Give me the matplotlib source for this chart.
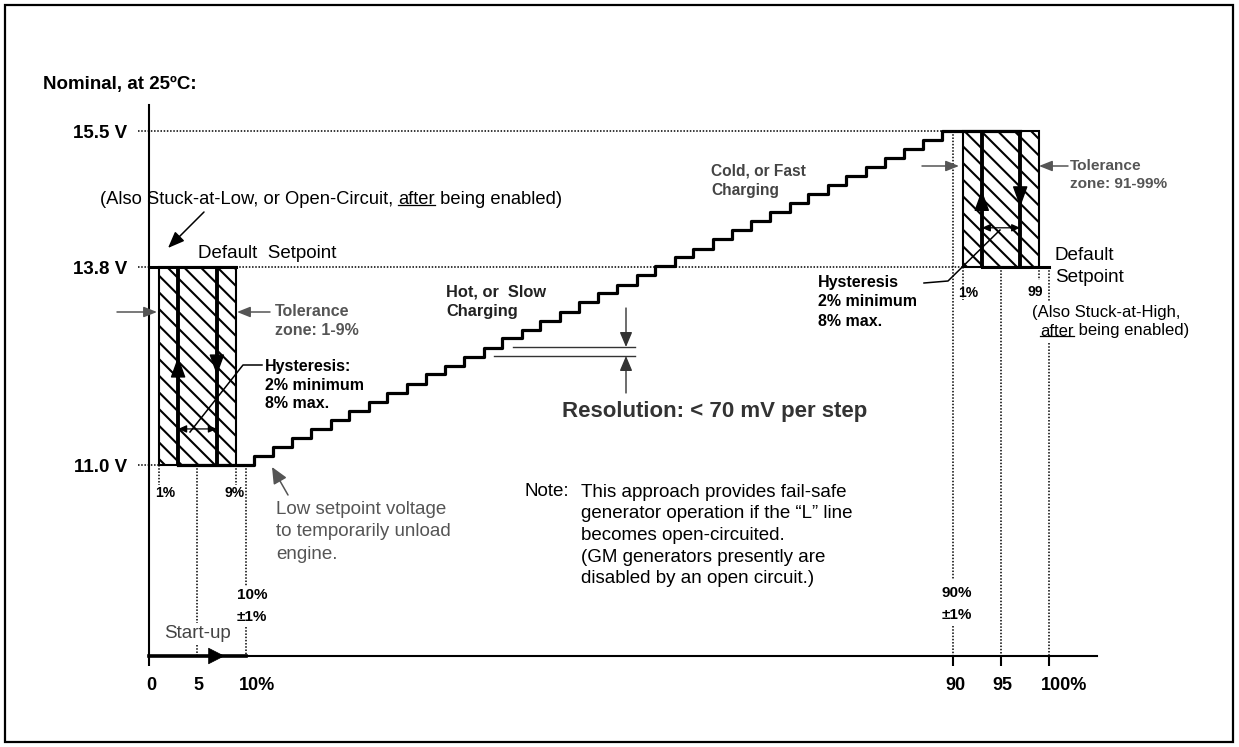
import numpy as np
import matplotlib
matplotlib.use("Agg")
import matplotlib.pyplot as plt
import matplotlib.transforms as mtransforms
from matplotlib.patches import Rectangle
from matplotlib.lines import Line2D

# ======================
# DATA
# ======================
V_LOW = 11.0
V_DEFAULT = 13.8
V_HIGH = 15.5
Y_TICKS = [V_LOW, V_DEFAULT, V_HIGH]
Y_TICK_LABELS = ["11.0 V", "13.8 V", "15.5 V"]

X_TICKS = [0, 5, 10, 90, 95, 100]
X_TICK_LABELS = ["0", "5", "10%", "90", "95", "100%"]

LOW_ZONE = [1, 9]        # tolerance zone, duty %
LOW_HYST = [3, 7]        # hysteresis lines
HIGH_ZONE = [91, 99]
HIGH_HYST = [93, 97]

# staircase: duty % at each riser and the level reached after it (V)
STEP_X = [10.9, 13.1, 15.2, 17.4, 19.6, 21.7, 23.9, 26.0, 28.2, 30.4,
          32.5, 34.7, 36.9, 39.0, 41.2, 43.3, 45.5, 47.7, 49.8, 52.0,
          54.2, 56.3, 58.5, 60.6, 62.8, 65.0, 67.1, 69.3, 71.5, 73.6,
          75.8, 77.9, 80.1, 82.3, 84.4, 86.6, 88.8]
STEP_V = [11.13, 11.26, 11.38, 11.51, 11.64, 11.77, 11.89, 12.02, 12.15, 12.28,
          12.40, 12.53, 12.66, 12.79, 12.91, 13.04, 13.17, 13.30, 13.43, 13.55,
          13.68, 13.81, 13.92, 14.03, 14.15, 14.26, 14.37, 14.49, 14.60, 14.71,
          14.82, 14.94, 15.05, 15.16, 15.27, 15.39, 15.50]

# ======================
# LAYOUT (diagram is not to scale)
# ======================
W, H, DPI = 1239, 747, 100
X_NODES, X_PIX = [0, 10, 90, 100], [149, 246, 953, 1049]
Y_NODES, Y_PIX = [11.0, 13.8, 15.5], [465, 267, 131]
X_LABEL_SHIFT = [2, 1, 11, 2, 1, 15]   # px, labels sit a bit right of ticks

plt.rcParams["font.family"] = ["Liberation Sans", "DejaVu Sans"]
plt.rcParams["hatch.linewidth"] = 1.5

GREY = "#555555"
DARK = "#333333"


def piecewise(src, dst):
    src = np.asarray(src, float)
    dst = np.asarray(dst, float)
    k_lo = (dst[1] - dst[0]) / (src[1] - src[0])
    k_hi = (dst[-1] - dst[-2]) / (src[-1] - src[-2])

    def f(v):
        v = np.asarray(v, float)
        out = np.interp(v, src, dst)
        out = np.where(v < src[0], dst[0] + (v - src[0]) * k_lo, out)
        out = np.where(v > src[-1], dst[-1] + (v - src[-1]) * k_hi, out)
        return out
    return f


fx, fx_inv = piecewise(X_NODES, X_PIX), piecewise(X_PIX, X_NODES)
ny = -np.array(Y_PIX, float)
fy, fy_inv = piecewise(Y_NODES, ny), piecewise(ny, Y_NODES)

fig = plt.figure(figsize=(W / DPI, H / DPI), dpi=DPI)
ax = fig.add_axes([149 / W, 1 - 656 / H, (1097 - 149) / W, (656 - 105) / H])
ax.set_xscale("function", functions=(fx, fx_inv))
ax.set_yscale("function", functions=(fy, fy_inv))
ax.set_xlim(0, float(fx_inv(1097)))
ax.set_ylim(float(fy_inv(-656)), float(fy_inv(-105)))

for s in ["top", "right"]:
    ax.spines[s].set_visible(False)
for s in ["left", "bottom"]:
    ax.spines[s].set_linewidth(1.5)

# pixel coords, origin top-left
PX = mtransforms.Affine2D().scale(1 / W, -1 / H).translate(0, 1) + fig.transFigure
BX = mtransforms.blended_transform_factory(ax.transData, PX)

# ======================
# AXES TICKS
# ======================
ax.set_yticks(Y_TICKS, labels=Y_TICK_LABELS, fontweight="bold", fontsize=13.5)
ax.tick_params(axis="y", length=0, pad=16)
ax.set_xticks([0, 90, 95, 100], labels=[])
ax.tick_params(axis="x", length=7, width=1.5, direction="out")

for x, lab, dx in zip(X_TICKS, X_TICK_LABELS, X_LABEL_SHIFT):
    ax.annotate(lab, xy=(x, 685), xycoords=BX, xytext=(dx * 0.72, 0),
                textcoords="offset points", ha="center", va="center",
                fontweight="bold", fontsize=13, annotation_clip=False)

# ======================
# DOTTED GUIDES
# ======================
DOT = dict(color="black", lw=1.1, ls=(0, (1, 1.1)), clip_on=False)
x_start = float(fx_inv(138))
ax.plot([x_start, STEP_X[-1]], [V_HIGH, V_HIGH], **DOT)
ax.plot([x_start, 0], [V_DEFAULT, V_DEFAULT], **DOT)
ax.plot([LOW_ZONE[1], HIGH_ZONE[0]], [V_DEFAULT, V_DEFAULT], **DOT)
ax.plot([x_start, LOW_ZONE[0]], [V_LOW, V_LOW], **DOT)

v_dots = [
    (1, 465, 485), (9, 465, 485),
    (5, 465, 623), (5, 645, 656),
    (10, 465, 586), (10, 627, 656),
    (90, 131, 580), (90, 626, 656),
    (91, 267, 300), (99, 267, 280),
    (95, 267, 656),
    (100, 267, 302), (100, 343, 656),
]
for x, y0, y1 in v_dots:
    ax.plot([x, x], [y0, y1], transform=BX, **DOT)

# ======================
# TOLERANCE ZONES
# ======================
for zone, hyst, v0, v1 in [(LOW_ZONE, LOW_HYST, V_LOW, V_DEFAULT),
                           (HIGH_ZONE, HIGH_HYST, V_DEFAULT, V_HIGH)]:
    ax.add_patch(Rectangle((zone[0], v0), zone[1] - zone[0], v1 - v0,
                           facecolor="white", edgecolor="black", hatch="\\\\",
                           lw=1.5, zorder=2))
    for hx in hyst:
        ax.plot([hx, hx], [v0, v1], color="black", lw=2.8, zorder=3,
                solid_capstyle="butt")

ax.plot([0, LOW_ZONE[1]], [V_DEFAULT, V_DEFAULT], color="black", lw=2.2, zorder=3)
ax.plot([HIGH_HYST[0], 100], [V_DEFAULT, V_DEFAULT], color="black", lw=2.2, zorder=3)

# staircase
xs = [LOW_HYST[0]] + STEP_X + [HIGH_HYST[1]]
ys = [V_LOW] + STEP_V + [V_HIGH]
ax.plot(xs, ys, drawstyle="steps-post", color="black", lw=2.3, zorder=4,
        clip_on=False)


def head(xy, xytext, hl=13, hw=4.7, lw=1.0, color="black", coords="data", style="-|>"):
    ax.annotate("", xy=xy, xycoords=coords, xytext=xytext, textcoords=coords,
                arrowprops=dict(arrowstyle=f"{style},head_length={hl},head_width={hw}",
                                color=color, lw=lw, shrinkA=0, shrinkB=0,
                                mutation_scale=1),
                annotation_clip=False, zorder=5)


# hysteresis arrows
head((LOW_HYST[0], 12.53), (LOW_HYST[0], 12.30))
head((LOW_HYST[1], 12.27), (LOW_HYST[1], 12.52))
head((HIGH_HYST[0], 14.76), (HIGH_HYST[0], 14.50))
head((HIGH_HYST[1], 14.55), (HIGH_HYST[1], 14.80))
head((LOW_HYST[1], 11.51), (LOW_HYST[0], 11.51), hl=5, hw=2.2, lw=0.9, style="<|-|>")
head((HIGH_HYST[1], 14.29), (HIGH_HYST[0], 14.29), hl=5, hw=2.2, lw=0.9, style="<|-|>")

# start-up arrow on the x axis
y_bot = ax.get_ylim()[0]
ax.plot([0, 10], [y_bot, y_bot], color="black", lw=2.6, clip_on=False, zorder=5)
head((7.8, y_bot), (5.0, y_bot), hl=11, hw=5.6, lw=0.5)

# ======================
# ANNOTATIONS (pixel positions)
# ======================
def txt(x, y, s, **kw):
    kw.setdefault("va", "center")
    return fig.text(x, y, s, transform=PX, **kw)


def px_arrow(p0, p1, hl=8, hw=3.2, color=GREY, lw=1.1):
    head(p1, p0, hl=hl, hw=hw, lw=lw, color=color, coords=PX)


def px_line(pts, color="black", lw=1.1):
    pts = np.array(pts, float)
    fig.add_artist(Line2D(pts[:, 0], pts[:, 1], transform=PX, color=color, lw=lw))


txt(43, 85, "Nominal, at 25ºC:", fontweight="bold", fontsize=13.5)

underlines = []
t1 = txt(100, 199, "(Also Stuck-at-Low, or Open-Circuit, ", fontsize=13.2)
t2 = ax.annotate("after", xy=(1, 0), xycoords=t1, va="bottom", fontsize=13.2)
ax.annotate(" being enabled)", xy=(1, 0), xycoords=t2, va="bottom", fontsize=13.2)
underlines.append(t2)
px_arrow((204, 212), (168, 248), hl=10, hw=4, color="black")

txt(198, 253, "Default  Setpoint", fontsize=13.5)
txt(275, 321, "Tolerance\nzone: 1-9%", fontsize=11.5, fontweight="bold", color=GREY,
    linespacing=1.31)
px_arrow((117, 312), (157, 312))
px_arrow((270, 312), (237, 312))

txt(265, 385, "Hysteresis:\n2% minimum\n8% max.", fontsize=11.5, fontweight="bold",
    linespacing=1.31)
px_line([(190, 432), (243, 365), (262, 365)])

txt(165, 493, "1%", fontsize=10, fontweight="bold", ha="center")
txt(235, 493, "9%", fontsize=10, fontweight="bold", ha="center")

txt(276, 532, "Low setpoint voltage\nto temporarily unload\nengine.", fontsize=13.5,
    color=GREY, linespacing=1.4)
px_arrow((288, 495), (272, 467), hl=10, hw=4.5)

txt(252, 606, "10%\n±1%", fontsize=11, fontweight="bold", ha="center", linespacing=1.68)
txt(197, 634, "Start-up", fontsize=13.5, color="#444444", ha="center")

txt(446, 302, "Hot, or  Slow\nCharging", fontsize=11.8, fontweight="bold",
    color="#222222", linespacing=1.35)
txt(711, 181, "Cold, or Fast\nCharging", fontsize=11.2, fontweight="bold",
    color="#444444", linespacing=1.34)

px_line([(513, 347), (635, 347)], color=DARK, lw=1.0)
px_line([(494, 356), (635, 356)], color=DARK, lw=1.0)
px_arrow((626, 308), (626, 347), hl=9, hw=3.8, color=DARK, lw=1.0)
px_arrow((626, 393), (626, 356), hl=9, hw=3.8, color=DARK, lw=1.0)
txt(562, 412, "Resolution: < 70 mV per step", fontsize=16, fontweight="bold",
    color=DARK)

txt(525, 492, "Note:", fontsize=13.5)
txt(581, 535.5, "This approach provides fail-safe\n"
                "generator operation if the \u201cL\u201d line\n"
                "becomes open-circuited.\n"
                "(GM generators presently are\n"
                "disabled by an open circuit.)", fontsize=13.5, linespacing=1.35)

txt(957, 604, "90%\n±1%", fontsize=11, fontweight="bold", ha="center", linespacing=1.68)

txt(1070, 175, "Tolerance\nzone: 91-99%", fontsize=11.1, fontweight="bold", color=GREY,
    linespacing=1.42)
px_arrow((922, 166), (959, 166))
px_arrow((1068, 166), (1039, 166))

txt(818, 302, "Hysteresis\n2% minimum\n8% max.", fontsize=11.5, fontweight="bold",
    linespacing=1.35)
px_line([(924, 283), (948, 281), (1000, 230)])

txt(1055, 266.5, "Default\nSetpoint", fontsize=13.6, linespacing=1.42)
txt(968, 293, "1%", fontsize=10, fontweight="bold", ha="center")
txt(1035, 292, "99", fontsize=10, fontweight="bold", ha="center")

txt(1106, 312, "(Also Stuck-at-High,", fontsize=12, ha="center")
t4 = txt(1040, 331, "after", fontsize=12)
ax.annotate(" being enabled)", xy=(1, 0), xycoords=t4, va="bottom", fontsize=12)
underlines.append(t4)

# page frame
fig.add_artist(Rectangle((5, 5), 1228, 737, transform=PX, fill=False,
                         edgecolor="black", lw=1.6))

# underline "after"
fig.canvas.draw()
renderer = fig.canvas.get_renderer()
for t in underlines:
    bb = t.get_window_extent(renderer)
    fig.add_artist(Line2D([bb.x0, bb.x1], [bb.y0 + 2.2, bb.y0 + 2.2],
                          transform=mtransforms.IdentityTransform(),
                          color="black", lw=0.9))

fig.savefig("out.png", dpi=DPI)
